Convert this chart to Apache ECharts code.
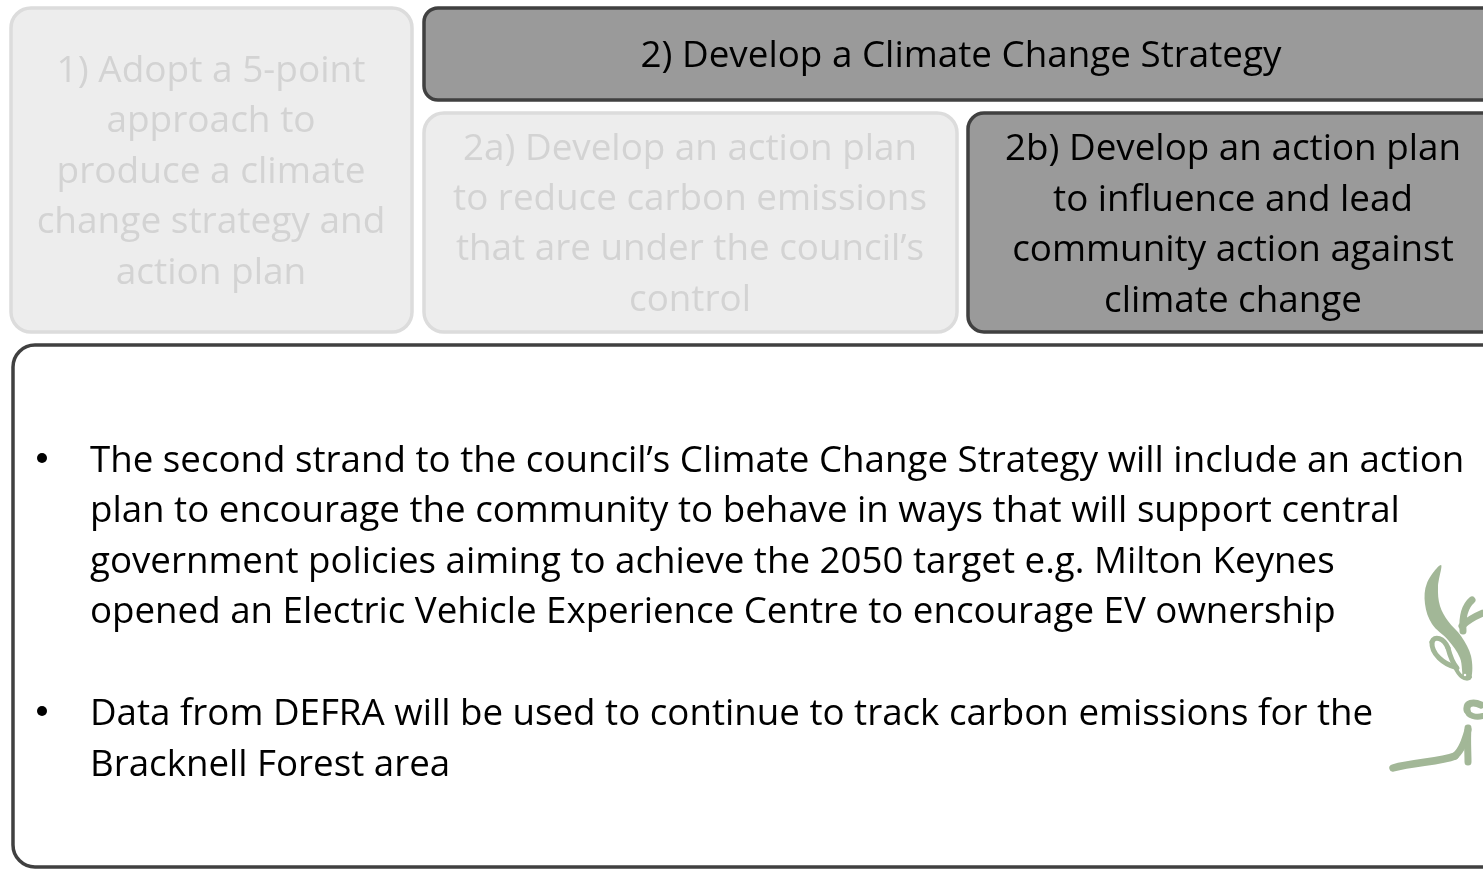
<!DOCTYPE html>
<html>
<head>
<meta charset="utf-8">
<script src="https://cdn.jsdelivr.net/npm/echarts@6/dist/echarts.min.js"></script>
<style>html,body{margin:0;padding:0;background:#fff}#c{width:1483px;height:871px}</style>
</head>
<body>
<div id="c"></div>
<script>
// ---- content ----
const box1Lines = ["1) Adopt a 5-point", "approach to", "produce a climate", "change strategy and", "action plan"];
const box2Title = ["2) Develop a Climate Change Strategy"];
const box2aLines = ["2a) Develop an action plan", "to reduce carbon emissions", "that are under the council\u2019s", "control"];
const box2bLines = ["2b) Develop an action plan", "to influence and lead", "community action against", "climate change"];
const bullet1Lines = [
  "The second strand to the council\u2019s Climate Change Strategy will include an action",
  "plan to encourage the community to behave in ways that will support central",
  "government policies aiming to achieve the 2050 target e.g. Milton Keynes",
  "opened an Electric Vehicle Experience Centre to encourage EV ownership"
];
const bullet2Lines = [
  "Data from DEFRA will be used to continue to track carbon emissions for the",
  "Bracknell Forest area"
];

const FONT = "'Open Sans', 'Noto Sans', sans-serif";
const chart = echarts.init(document.getElementById('c'), null, {renderer: 'canvas'});

const LIGHT = {fill: '#ededed', stroke: '#dcdcdc', lineWidth: 3.5};
const DARK = {fill: '#9a9a9a', stroke: '#404040', lineWidth: 3.5};
const LIGHT_TEXT = '#d3d3d3';
const g = [];

function box(x, y, w, h, r, st) {
  g.push({type: 'rect', shape: {x, y, width: w, height: h, r}, style: Object.assign({}, st)});
}
// baseline-positioned lines (middle = baseline - 0.28em)
function lines(arr, cx, base0, dy, color, size, align) {
  arr.forEach((t, i) => {
    g.push({type: 'text', style: {text: t, x: cx, y: base0 + i * dy - 0.28 * size, fill: color,
      font: size + 'px ' + FONT, align: align || 'center', verticalAlign: 'middle'}});
  });
}

box(11, 8, 401, 324, 20, LIGHT);
lines(box1Lines, 211, 81.7, 50.5, LIGHT_TEXT, 37);

box(424, 8, 1090, 92, 14, DARK);
lines(box2Title, 961, 67.3, 50, '#000', 36.8);

box(424, 113, 533, 219, 20, LIGHT);
lines(box2aLines, 690, 159.5, 50.4, LIGHT_TEXT, 36.8);

box(968, 113, 540, 219, 16, DARK);
lines(box2bLines, 1233, 160.3, 50.4, '#000', 36.8);

box(13, 345, 1500, 522, 22, {fill: '#fff', stroke: '#404040', lineWidth: 3.5});

g.push({type: 'circle', shape: {cx: 42, cy: 458, r: 5}, style: {fill: '#000'}});
g.push({type: 'circle', shape: {cx: 42, cy: 711, r: 5}, style: {fill: '#000'}});
lines(bullet1Lines, 90, 471.7, 50.5, '#000', 36.7, 'left');
lines(bullet2Lines, 90, 725, 50.5, '#000', 36.7, 'left');

// deer logo
const DEER = '#a2b797';
function curve(p, w) {
  g.push({type: 'bezierCurve', shape: {x1: p[0], y1: p[1], cpx1: p[2], cpy1: p[3], cpx2: p[4], cpy2: p[5], x2: p[6], y2: p[7]},
    style: {fill: null, stroke: DEER, lineWidth: w, lineCap: 'round'}});
}
// main antler crescent
g.push({type: 'polygon', shape: {smooth: 0.35, points: [
  [1441, 565], [1427, 583], [1425, 604], [1432, 624], [1448, 640], [1460, 658], [1464, 679],
  [1471, 679], [1471, 656], [1461, 636], [1448, 621], [1440, 606], [1438, 587]
]}, style: {fill: DEER}});
// upper branch
curve([1472, 600, 1465, 606, 1462, 616, 1463, 631], 7);
curve([1462, 626, 1468, 620, 1476, 616, 1483, 613], 7);
// ear loop
curve([1455, 667, 1444, 664, 1431, 654, 1432, 642], 5);
curve([1432, 642, 1434, 635, 1444, 638, 1448, 648], 5);
curve([1448, 648, 1450, 656, 1452, 662, 1457, 668], 5);
// head / snout
curve([1455, 667, 1459, 676, 1465, 681, 1470, 677], 4);
g.push({type: 'circle', shape: {cx: 1465, cy: 675, r: 2}, style: {fill: '#fff', stroke: DEER, lineWidth: 1.5}});
// lower hook
curve([1481, 705, 1473, 701, 1466, 703, 1467, 710], 7);
curve([1467, 710, 1468, 716, 1476, 718, 1483, 716], 6);
// neck stem
curve([1468, 728, 1467, 740, 1468, 752, 1468, 762], 7);
curve([1393, 768, 1415, 762, 1440, 762, 1455, 756], 7.5);
curve([1455, 756, 1462, 750, 1465, 740, 1468, 730], 7);

chart.setOption({animation: false, graphic: {elements: g}});
</script>
</body>
</html>
